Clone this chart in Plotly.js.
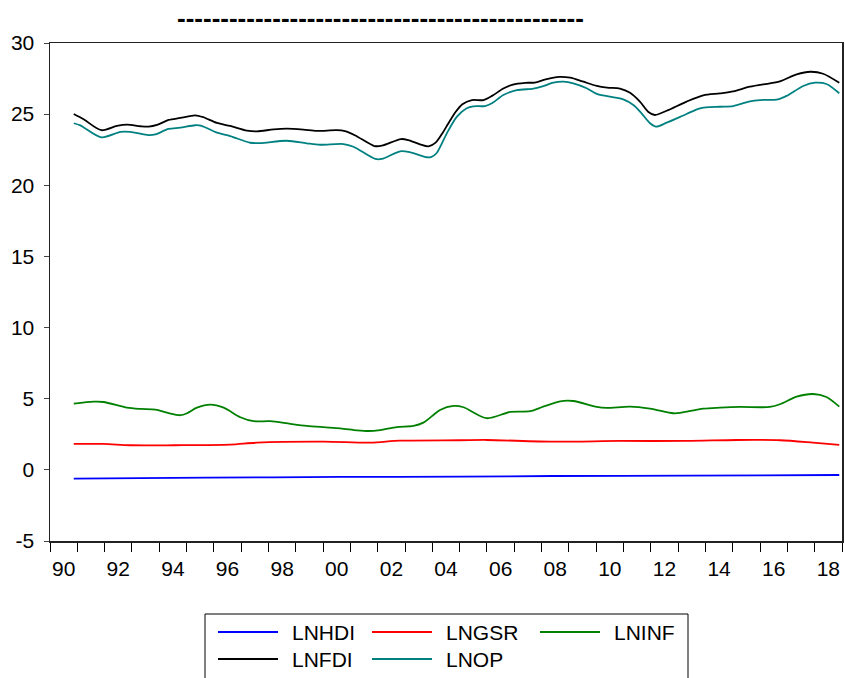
<!DOCTYPE html>
<html>
<head>
<meta charset="utf-8">
<script src="https://cdn.plot.ly/plotly-3.0.1.min.js"></script>
<style>html,body{margin:0;padding:0;background:#fff;}#chart{width:845px;height:678px;}</style>
</head>
<body>
<div id="chart"></div>
<script>
// ---- data (decimal years) ----
const seriesNames = ["LNHDI", "LNGSR", "LNINF", "LNFDI", "LNOP"];
const seriesColors = ["#0000FF", "#FF0000", "#008000", "#000000", "#008080"];

const hdiDates = [1990.87, 1995.75, 2000.63, 2005.02, 2008.43, 2013.31, 2018.9];
const hdiValues = [-0.62, -0.55, -0.50, -0.48, -0.43, -0.41, -0.36];

const gsrDates = [1990.87, 1991.96, 1992.94, 1994.53, 1996.6, 1997.58, 2000.02, 2001.73, 2002.82, 2005.02, 2005.99, 2008.43, 2010.87, 2013.31, 2015.14, 2016.73, 2017.94, 2018.9];
const gsrValues = [1.82, 1.82, 1.73, 1.73, 1.77, 1.91, 1.98, 1.91, 2.05, 2.08, 2.10, 1.98, 2.03, 2.03, 2.10, 2.08, 1.91, 1.75];

const infDates = [1990.87, 1991.6, 1991.96, 1992.82, 1993.31, 1993.86, 1994.28, 1994.77, 1995.02, 1995.38, 1995.87, 1996.36, 1996.97, 1997.45, 1998.06, 1998.8, 1999.4, 2000.02, 2000.63, 2001.24, 2001.66, 2002.09, 2002.7, 2003.31, 2003.67, 2004.04, 2004.28, 2004.77, 2005.14, 2005.99, 2006.85, 2007.58, 2008.06, 2008.68, 2009.16, 2010.02, 2010.38, 2011.24, 2011.97, 2012.82, 2013.07, 2013.92, 2014.53, 2015.26, 2016.36, 2016.73, 2017.34, 2017.94, 2018.43, 2018.9];
const infValues = [4.65, 4.79, 4.77, 4.37, 4.28, 4.23, 4.02, 3.84, 3.98, 4.37, 4.58, 4.37, 3.70, 3.42, 3.42, 3.23, 3.09, 3.00, 2.92, 2.78, 2.73, 2.80, 3.01, 3.09, 3.32, 3.86, 4.21, 4.49, 4.40, 3.63, 4.07, 4.12, 4.44, 4.82, 4.84, 4.42, 4.35, 4.44, 4.30, 3.98, 4.00, 4.30, 4.37, 4.42, 4.42, 4.61, 5.14, 5.33, 5.12, 4.44];

const fdiDates = [1990.87, 1991.23, 1991.88, 1992.45, 1992.82, 1993.31, 1993.61, 1993.92, 1994.34, 1994.77, 1995.32, 1995.62, 1996.11, 1996.6, 1997.21, 1997.58, 1998.19, 1998.67, 1999.28, 1999.77, 2000.5, 2000.8, 2001.18, 2001.88, 2002.15, 2002.85, 2003.12, 2003.55, 2003.86, 2004.12, 2004.35, 2004.59, 2004.85, 2005.1, 2005.45, 2005.87, 2006.2, 2006.6, 2006.95, 2007.4, 2007.75, 2008.15, 2008.65, 2009.05, 2009.5, 2010.02, 2010.4, 2010.87, 2011.24, 2011.6, 2011.9, 2012.15, 2012.58, 2013.31, 2013.92, 2014.53, 2015.02, 2015.63, 2016.36, 2016.73, 2017.34, 2017.85, 2018.31, 2018.9];
const fdiValues = [25.01, 24.64, 23.87, 24.17, 24.26, 24.15, 24.12, 24.24, 24.59, 24.73, 24.92, 24.78, 24.38, 24.17, 23.84, 23.79, 23.93, 23.98, 23.91, 23.82, 23.87, 23.80, 23.50, 22.76, 22.78, 23.25, 23.18, 22.88, 22.74, 23.00, 23.60, 24.36, 25.15, 25.70, 25.99, 25.99, 26.30, 26.80, 27.08, 27.20, 27.22, 27.45, 27.62, 27.56, 27.30, 26.98, 26.86, 26.80, 26.50, 25.88, 25.17, 24.94, 25.24, 25.88, 26.32, 26.46, 26.60, 26.93, 27.17, 27.31, 27.80, 27.98, 27.84, 27.20];

const opDates = [1990.87, 1991.11, 1991.88, 1992.58, 1992.94, 1993.61, 1993.86, 1994.34, 1994.77, 1995.32, 1995.55, 1996.11, 1996.6, 1997.33, 1997.7, 1998.67, 1999.4, 1999.89, 2000.75, 2001.11, 2001.91, 2002.15, 2002.82, 2003.19, 2003.8, 2003.95, 2004.16, 2004.53, 2004.9, 2005.26, 2005.5, 2005.93, 2006.18, 2006.6, 2007.09, 2007.7, 2008.0, 2008.43, 2008.8, 2009.16, 2009.65, 2010.02, 2010.5, 2010.99, 2011.36, 2011.66, 2011.97, 2012.19, 2012.58, 2013.31, 2013.8, 2014.53, 2015.02, 2015.63, 2016.0, 2016.66, 2016.97, 2017.58, 2018.01, 2018.43, 2018.9];
const opValues = [24.36, 24.21, 23.37, 23.75, 23.75, 23.53, 23.58, 23.96, 24.05, 24.22, 24.18, 23.70, 23.46, 22.99, 22.97, 23.13, 22.95, 22.85, 22.90, 22.71, 21.85, 21.85, 22.39, 22.32, 21.97, 21.98, 22.27, 23.65, 24.82, 25.41, 25.55, 25.57, 25.76, 26.35, 26.68, 26.79, 26.93, 27.21, 27.28, 27.17, 26.82, 26.42, 26.23, 26.04, 25.64, 25.06, 24.36, 24.12, 24.40, 25.01, 25.41, 25.52, 25.57, 25.90, 25.99, 26.04, 26.28, 26.98, 27.21, 27.12, 26.47];

const yearTicks = [1990,1991,1992,1993,1994,1995,1996,1997,1998,1999,2000,2001,2002,2003,2004,2005,2006,2007,2008,2009,2010,2011,2012,2013,2014,2015,2016,2017,2018,2019];
const labelYears = [1990,1992,1994,1996,1998,2000,2002,2004,2006,2008,2010,2012,2014,2016,2018];
const labelText = ["90","92","94","96","98","00","02","04","06","08","10","12","14","16","18"];
const yTickValues = [-5, 0, 5, 10, 15, 20, 25, 30];
const yTickText = ["-5", "0", "5", "10", "15", "20", "25", "30"];
const titleText = "-----------------------------------------------";

// ---- build ----
const allDates = [hdiDates, gsrDates, infDates, fdiDates, opDates];
const allValues = [hdiValues, gsrValues, infValues, fdiValues, opValues];

const W = 845, H = 678, ML = 50, MR = 3, MT = 43, MB = 137;
const pw = W - ML - MR, ph = H - MT - MB;
const px = x => (x - ML) / pw;
const py = y => (H - MB - y) / ph;

const traces = seriesNames.map((n, i) => ({
  x: allDates[i], y: allValues[i], name: n, type: "scatter", mode: "lines",
  line: {color: seriesColors[i], width: 1.8, shape: "spline", smoothing: 0.8},
  showlegend: false, hoverinfo: "skip"
}));

const FONT = "Liberation Sans, Arial, sans-serif";
const shapes = [];
const annotations = [];
// title (dashes) as a top-anchored annotation
annotations.push({xref: "paper", yref: "paper", x: px(380), y: py(1), xanchor: "center", yanchor: "top",
  text: "<b>" + titleText + "</b>", showarrow: false, font: {family: FONT, size: 26, color: "#000"}});
// legend box
shapes.push({type: "rect", xref: "paper", yref: "paper", x0: px(205), x1: px(688), y0: py(614), y1: py(690),
  line: {color: "#000", width: 1}, fillcolor: "rgba(0,0,0,0)"});
const legPos = [[218, 632], [372, 632], [540, 632], [218, 659], [372, 659]];
seriesNames.forEach((n, i) => {
  const [lx, ly] = legPos[i];
  shapes.push({type: "line", xref: "paper", yref: "paper", x0: px(lx), x1: px(lx + 60), y0: py(ly), y1: py(ly),
    line: {color: seriesColors[i], width: 1.8}});
  annotations.push({xref: "paper", yref: "paper", x: px(lx + 72), y: py(ly), xanchor: "left", yanchor: "middle",
    text: n, showarrow: false, font: {family: FONT, size: 21, color: "#000"}});
});

const layout = {
  width: W, height: H,
  margin: {l: ML, r: MR, t: MT, b: MB, pad: 0},
  paper_bgcolor: "#fff", plot_bgcolor: "#fff",
  xaxis: {range: [1990, 2019], tickmode: "array", tickvals: labelYears.map(v => v + 0.5), ticktext: labelText,
    ticks: "outside", ticklen: 0, ticklabelstandoff: 8,
    minor: {tickmode: "array", tickvals: yearTicks, ticks: "outside", ticklen: 9, tickwidth: 1, tickcolor: "#000", showgrid: false},
    showgrid: false, zeroline: false, showline: true, mirror: true, linecolor: "#222", linewidth: 1.5,
    tickfont: {family: FONT, size: 21, color: "#000"}, fixedrange: true},
  yaxis: {range: [-5, 30], tickmode: "array", tickvals: yTickValues, ticktext: yTickText, ticks: "outside", ticklen: 5, tickwidth: 1,
    tickcolor: "#444", ticklabelstandoff: 5,
    showgrid: false, zeroline: false, showline: true, mirror: true, linecolor: "#222", linewidth: 1.5,
    tickfont: {family: FONT, size: 21, color: "#000"}, fixedrange: true},
  shapes: shapes, annotations: annotations, showlegend: false
};

Plotly.newPlot("chart", traces, layout, {displayModeBar: false, staticPlot: true});
</script>
</body>
</html>
